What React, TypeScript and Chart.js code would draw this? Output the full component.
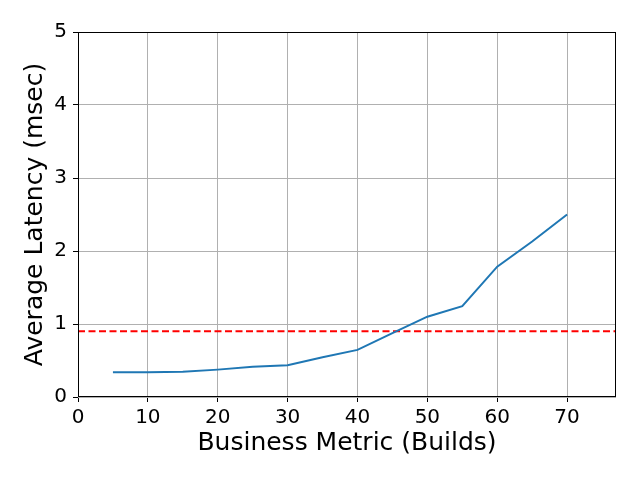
import React, { useEffect, useRef } from "react";
import { Chart, registerables } from "chart.js";

Chart.register(...registerables);

const builds = [5, 10, 15, 20, 25, 30, 35, 40, 45, 50, 55, 60, 65, 70];
const latency = [0.34, 0.34, 0.345, 0.375, 0.415, 0.435, 0.545, 0.645, 0.875, 1.1, 1.245, 1.785, 2.13, 2.5];
const threshold = 0.9;
const xTicks = [0, 10, 20, 30, 40, 50, 60, 70];
const yTicks = [0, 1, 2, 3, 4, 5];
const xMax = 77;

const FONT = "'DejaVu Sans', sans-serif";

const boxPlugin = {
  id: "box",
  afterDraw(chart: any) {
    const { ctx, chartArea } = chart;
    ctx.save();
    ctx.strokeStyle = "#000";
    ctx.lineWidth = 1;
    ctx.strokeRect(
      Math.round(chartArea.left) + 0.5,
      Math.round(chartArea.top) + 0.5,
      Math.round(chartArea.right - chartArea.left) - 1,
      Math.round(chartArea.bottom - chartArea.top) - 1
    );
    ctx.restore();
  },
};

export default function App() {
  const ref = useRef<HTMLCanvasElement>(null);
  useEffect(() => {
    document.body.style.margin = "0";
    const chart = new Chart(ref.current!, {
      type: "line",
      data: {
        datasets: [
          {
            data: builds.map((b, i) => ({ x: b, y: latency[i] })),
            borderColor: "#1f77b4",
            borderWidth: 2,
            pointRadius: 0,
            tension: 0,
          },
          {
            data: [
              { x: 0, y: threshold },
              { x: xMax, y: threshold },
            ],
            borderColor: "#ff0000",
            borderWidth: 2,
            borderDash: [7, 3.5],
            pointRadius: 0,
          },
        ],
      },
      options: {
        animation: false,
        responsive: false,
        layout: { padding: { top: 32, right: 24, left: 0, bottom: 0 } },
        plugins: { legend: { display: false }, tooltip: { enabled: false } },
        scales: {
          x: {
            type: "linear",
            min: 0,
            max: xMax,
            afterBuildTicks: (s: any) => {
              s.ticks = xTicks.map((v) => ({ value: v }));
            },
            afterFit: (s: any) => {
              s.height = 83;
            },
            grid: { color: "#b0b0b0", lineWidth: 1, tickColor: "#000", tickLength: 5 },
            border: { display: false },
            ticks: { color: "#000", font: { family: FONT, size: 20 }, padding: 4, maxRotation: 0 },
            title: {
              display: true,
              text: "Business Metric (Builds)",
              color: "#000",
              font: { family: FONT, size: 25 },
              padding: { top: 0, bottom: 22 },
            },
          },
          y: {
            min: 0,
            max: 5,
            afterBuildTicks: (s: any) => {
              s.ticks = yTicks.map((v) => ({ value: v }));
            },
            afterFit: (s: any) => {
              s.width = 78;
            },
            grid: { color: "#b0b0b0", lineWidth: 1, tickColor: "#000", tickLength: 5 },
            border: { display: false },
            ticks: { color: "#000", font: { family: FONT, size: 20 }, padding: 6 },
            title: {
              display: true,
              text: "Average Latency (msec)",
              color: "#000",
              font: { family: FONT, size: 25 },
              padding: { top: 20, bottom: 0 },
            },
          },
        },
      },
      plugins: [boxPlugin],
    });
    return () => chart.destroy();
  }, []);
  return (
    <div style={{ position: "absolute", left: 0, top: 0, width: 640, height: 480 }}>
      <canvas ref={ref} width={640} height={480} style={{ background: "#fff" }} />
    </div>
  );
}
